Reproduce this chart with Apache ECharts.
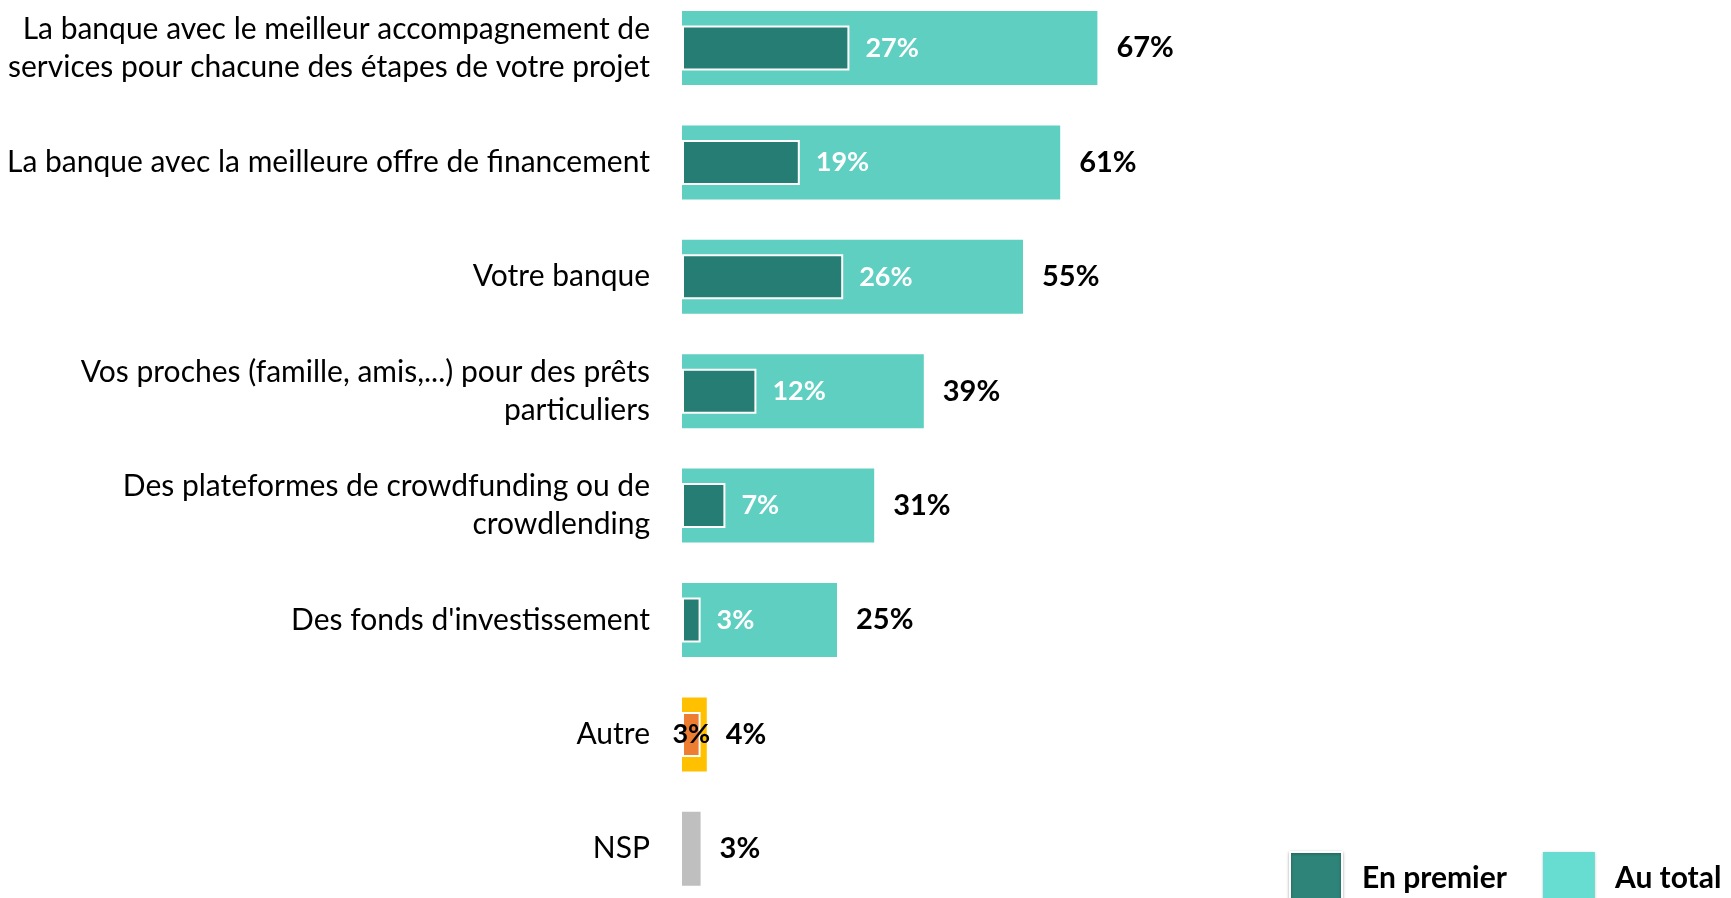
<!DOCTYPE html>
<html>
<head>
<meta charset="utf-8">
<script src="https://cdn.jsdelivr.net/npm/echarts@6/dist/echarts.min.js"></script>
<style>
    html, body { margin: 0; padding: 0; background: #fff; }
    #chart { width: 1731px; height: 898px; }
</style>
</head>
<body>
<div id="chart"></div>
<script>
    // données
    let categories = [
        'La banque avec le meilleur accompagnement de\nservices pour chacune des étapes de votre projet',
        'La banque avec la meilleure offre de financement',
        'Votre banque',
        'Vos proches (famille, amis,...) pour des prêts\nparticuliers',
        'Des plateformes de crowdfunding ou de\ncrowdlending',
        "Des fonds d'investissement",
        'Autre',
        'NSP'
    ]
    let enPremier = [27, 19, 26, 12, 7, 3, 3, null]
    let auTotal = [67, 61, 55, 39, 31, 25, 4, 3]
    let seriesNames = ['En premier', 'Au total']

    let font = 'Lato'
    let totalColors = ['#5ECFC1', '#5ECFC1', '#5ECFC1', '#5ECFC1', '#5ECFC1', '#5ECFC1', '#FFC000', '#BFBFBF']
    let premierColors = ['#267D73', '#267D73', '#267D73', '#267D73', '#267D73', '#267D73', '#ED7D31', '#267D73']

    let myChart = echarts.init(document.getElementById('chart'))

    let totalData = auTotal.map(function (v, i) {
        return { value: v, itemStyle: { color: totalColors[i] } }
    })
    let premierData = enPremier.map(function (v, i) {
        let item = { value: v, itemStyle: { color: premierColors[i] } }
        if (categories[i] === 'Autre') {
            item.label = { position: 'inside', color: '#000' }
        }
        return item
    })

    let catAxis = {
        type: 'category',
        data: categories,
        inverse: true,
        axisLine: { show: false },
        axisTick: { show: false },
        splitLine: { show: false }
    }

    let option = {
        animation: false,
        grid: {
            left: 682,
            top: -9.2,
            width: 620,
            height: 915.2,
            containLabel: false,
            outerBoundsMode: 'none'
        },
        legend: {
            left: 1289,
            top: 851,
            padding: 0,
            icon: 'rect',
            itemWidth: 52,
            itemHeight: 52,
            itemGap: 36,
            data: [
                { name: 'En premier', itemStyle: { color: '#2E8478', shadowBlur: 3, shadowColor: 'rgba(0,0,0,0.3)', shadowOffsetY: 1 } },
                { name: 'Au total', itemStyle: { color: '#66DDD0', shadowBlur: 3, shadowColor: 'rgba(0,0,0,0.3)', shadowOffsetY: 1 } }
            ],
            textStyle: {
                fontFamily: font,
                fontWeight: 'bold',
                fontSize: 30,
                color: '#000',
                padding: [0, 0, 0, 15]
            }
        },
        xAxis: {
            type: 'value',
            min: 0,
            max: 100,
            show: false
        },
        yAxis: [
            Object.assign({}, catAxis, {
                axisLabel: {
                    margin: 32,
                    fontFamily: font,
                    fontSize: 30,
                    lineHeight: 38,
                    color: '#000',
                    align: 'right'
                }
            }),
            Object.assign({}, catAxis, {
                position: 'left',
                axisLabel: { show: false }
            })
        ],
        series: [
            {
                name: seriesNames[1],
                type: 'bar',
                yAxisIndex: 0,
                barWidth: 74,
                itemStyle: { color: '#5ECFC1' },
                label: {
                    show: true,
                    position: 'right',
                    distance: 19,
                    formatter: '{c}%',
                    fontFamily: font,
                    fontWeight: 'bold',
                    fontSize: 29,
                    color: '#000'
                },
                data: totalData,
                z: 2
            },
            {
                name: seriesNames[0],
                type: 'bar',
                yAxisIndex: 1,
                barWidth: 45,
                itemStyle: { color: '#267D73', borderColor: '#fff', borderWidth: 2 },
                label: {
                    show: true,
                    position: 'right',
                    distance: 16,
                    formatter: '{c}%',
                    fontFamily: font,
                    fontWeight: 'bold',
                    fontSize: 27,
                    color: '#fff'
                },
                data: premierData,
                z: 3
            }
        ]
    }
    myChart.setOption(option)
</script>
</body>
</html>
